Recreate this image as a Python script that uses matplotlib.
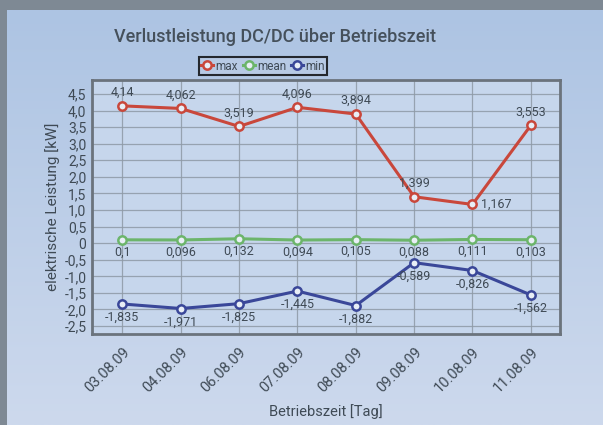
import numpy as np
import matplotlib
matplotlib.use("Agg")
import matplotlib.pyplot as plt
from matplotlib.ticker import FuncFormatter

# data
dates = ['03.08.09', '04.08.09', '06.08.09', '07.08.09',
         '08.08.09', '09.08.09', '10.08.09', '11.08.09']
max_vals = [4.14, 4.062, 3.519, 4.096, 3.894, 1.399, 1.167, 3.553]
mean_vals = [0.1, 0.096, 0.132, 0.094, 0.105, 0.088, 0.111, 0.103]
min_vals = [-1.835, -1.971, -1.825, -1.445, -1.882, -0.589, -0.826, -1.562]

c_max = '#c9473b'
c_mean = '#6cb56b'
c_min = '#3a4799'
txt = '#3f4a55'

plt.rcParams['font.family'] = ['Roboto', 'DejaVu Sans']

fig = plt.figure(figsize=(6.03, 4.25), dpi=100)
fig.patch.set_facecolor('#7e8994')

# light panel with soft gradient
bg = fig.add_axes([7/603, 0, 1 - 7/603, 1 - 10/425], zorder=-5)
grad = np.linspace(0, 1, 256).reshape(-1, 1)
cmap = matplotlib.colors.LinearSegmentedColormap.from_list('bg', ['#adc4e3', '#cdd9ed'])
bg.imshow(grad, aspect='auto', cmap=cmap, extent=[0, 1, 1, 0])
bg.set_axis_off()

ax = fig.add_axes([92/603, 1 - 334/425, 468/603, 254/425])
ax.set_facecolor('#c6d6ec')
x = np.arange(len(dates))

def fmt(v):
    s = ('%.3f' % v).rstrip('0').rstrip('.')
    return s.replace('.', ',')

mk = dict(marker='o', markersize=6, markerfacecolor='#e8eef6', markeredgewidth=1.8, lw=2.2)
ax.plot(x, max_vals, color=c_max, label='max', **mk, zorder=4)
ax.plot(x, mean_vals, color=c_mean, label='mean', **mk, zorder=4)
ax.plot(x, min_vals, color=c_min, label='min', **mk, zorder=4)

lbl = dict(fontsize=9, color=txt, ha='center', zorder=5)
for i, v in enumerate(max_vals):
    if i == 6:
        ax.annotate(fmt(v), (i, v), xytext=(6, 0), textcoords='offset points',
                    va='center', **{**lbl, 'ha': 'left'})
    else:
        ax.annotate(fmt(v), (i, v), xytext=(0, 5), textcoords='offset points',
                    va='bottom', **lbl)
for i, v in enumerate(mean_vals):
    ax.annotate(fmt(v), (i, v), xytext=(0, -4), textcoords='offset points',
                va='top', **lbl)
for i, v in enumerate(min_vals):
    ax.annotate(fmt(v), (i, v), xytext=(0, -5), textcoords='offset points',
                va='top', **lbl)

ax.set_xlim(-0.52, 7.5)
ax.set_ylim(-2.74, 4.92)
ax.set_yticks(np.arange(-2.5, 4.51, 0.5))
ax.yaxis.set_major_formatter(FuncFormatter(
    lambda v, p: '0' if abs(v) < 1e-9 else ('%.1f' % v).replace('.', ',')))
ax.set_xticks(x)
ax.set_xticklabels(dates, rotation=45, ha='right', rotation_mode='anchor')
ax.tick_params(axis='both', length=0, labelsize=10, colors=txt, pad=4)
ax.tick_params(axis='x', labelsize=10.5, pad=8)
ax.grid(True, color='#8e99a6', lw=0.9, alpha=0.85)
ax.set_axisbelow(True)
for s in ax.spines.values():
    s.set_color('#6b737c')
    s.set_linewidth(2)

ax.set_ylabel('elektrische Leistung [kW]', fontsize=11, color=txt, labelpad=3)
ax.set_xlabel('Betriebszeit [Tag]', fontsize=10.5, color=txt, labelpad=6)

fig.text(275/603, 1 - 37/425, 'Verlustleistung DC/DC über Betriebszeit',
         ha='center', va='center', fontsize=13, fontweight='medium', color='#45505b')

leg = fig.legend(loc='center', bbox_to_anchor=(263/603, 1 - 66/425), ncol=3,
                 fontsize=8.5, frameon=True, handlelength=1.0, handletextpad=0.2,
                 columnspacing=0.4, borderpad=0.25, fancybox=False, labelcolor=txt)
leg.get_frame().set_edgecolor('black')
leg.get_frame().set_linewidth(1.5)
leg.get_frame().set_facecolor('#b9cce6')

fig.savefig('out.png', dpi=100, facecolor=fig.get_facecolor())
